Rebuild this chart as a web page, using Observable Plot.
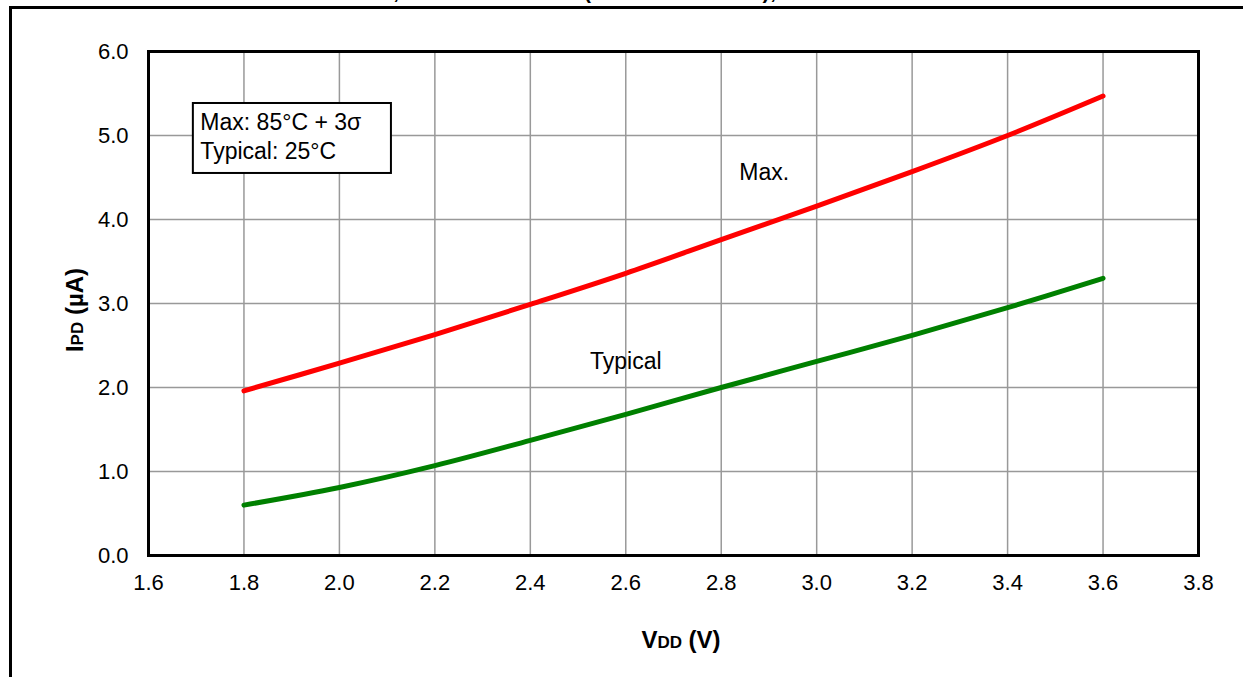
<!DOCTYPE html>
<html>
<head>
<meta charset="utf-8">
<script src="https://cdn.jsdelivr.net/npm/d3@7"></script>
<script src="https://cdn.jsdelivr.net/npm/@observablehq/plot@0.6"></script>
<style>
  html, body { margin: 0; padding: 0; background: #fff; }
  #wrap { position: relative; width: 1243px; height: 677px; overflow: hidden; font-family: "Liberation Sans", Arial, sans-serif; }
  #frame { position: absolute; left: 9px; top: 6px; width: 1300px; height: 700px; border-top: 3px solid #000; border-left: 3px solid #000; }
  .ttl { position: absolute; top: -19px; font: bold 21px "Liberation Sans", Arial, sans-serif; line-height: 21px; white-space: nowrap; color: #000; }
  #chart { position: absolute; left: 0; top: 0; }
</style>
</head>
<body>
<div id="wrap">
  <div class="ttl" style="right:844px">FIGURE 26-3:   IPD vs. VDD,</div>
  <div class="ttl" style="left:584px; letter-spacing:0.8px">(WDT DISABLED),</div>
  <div id="frame"></div>
  <div id="chart"></div>
</div>
<script>
// ---- data ----
const vdd    = [1.8, 2.0, 2.2, 2.4, 2.6, 2.8, 3.0, 3.2, 3.4, 3.6];
const ipdMax = [1.96, 2.29, 2.63, 2.99, 3.36, 3.76, 4.16, 4.57, 5.00, 5.47];
const ipdTyp = [0.60, 0.81, 1.07, 1.37, 1.68, 2.00, 2.31, 2.62, 2.95, 3.30];
const xTicks = [1.6, 1.8, 2.0, 2.2, 2.4, 2.6, 2.8, 3.0, 3.2, 3.4, 3.6, 3.8];
const yTicks = [0, 1, 2, 3, 4, 5, 6];
const legendLines = ["Max: 85°C + 3σ", "Typical: 25°C"];
const seriesLabels = [
  {text: "Max.", x: 2.89, y: 4.56},
  {text: "Typical", x: 2.60, y: 2.31}
];
const legendBox = [{x1: 1.694, x2: 2.109, y1: 4.548, y2: 5.381}];

const maxData = vdd.map((v, i) => ({v, ipd: ipdMax[i]}));
const typData = vdd.map((v, i) => ({v, ipd: ipdTyp[i]}));

const W = 1243, H = 677;
const svg = Plot.plot({
  width: W, height: H,
  marginLeft: 148, marginRight: 45, marginTop: 51, marginBottom: 122,
  style: {fontFamily: "'Liberation Sans', Arial, sans-serif", fontSize: "22px", color: "#000", background: "transparent", overflow: "visible"},
  x: {domain: [1.6, 3.8], label: null},
  y: {domain: [0, 6], label: null},
  marks: [
    Plot.gridX(xTicks, {stroke: "#999", strokeOpacity: 1, strokeWidth: 1.5}),
    Plot.gridY(yTicks, {stroke: "#999", strokeOpacity: 1, strokeWidth: 1.5}),
    Plot.rect(legendBox, {x1: "x1", x2: "x2", y1: "y1", y2: "y2", fill: "white", stroke: "black", strokeWidth: 2}),
    Plot.text(legendLines, {x: legendBox[0].x1, y: (d, i) => i === 0 ? 5.155 : 4.81, text: d => d, textAnchor: "start", dx: 7, fontSize: 23, fill: "#000"}),
    Plot.line(maxData, {x: "v", y: "ipd", stroke: "#ff0000", strokeWidth: 5, curve: "catmull-rom", strokeLinecap: "round"}),
    Plot.line(typData, {x: "v", y: "ipd", stroke: "#008000", strokeWidth: 5, curve: "catmull-rom", strokeLinecap: "round"}),
    Plot.text(seriesLabels, {x: "x", y: "y", text: "text", fontSize: 23, fill: "#000"}),
    Plot.frame({stroke: "#000", strokeWidth: 3}),
    Plot.axisX(xTicks, {tickSize: 0, tickPadding: 19, tickFormat: d => d.toFixed(1), fontSize: 22, label: null}),
    Plot.axisY(yTicks, {tickSize: 0, tickPadding: 20, tickFormat: d => d.toFixed(1), fontSize: 22, label: null})
  ]
});

const s = d3.select(svg);
const yl = s.append("text")
  .attr("transform", "translate(83,310) rotate(-90)")
  .attr("text-anchor", "middle")
  .attr("font-weight", "bold").attr("font-size", 24).attr("fill", "#000");
yl.append("tspan").text("I");
yl.append("tspan").attr("font-size", 17).text("PD");
yl.append("tspan").text(" (µA)");

const xl = s.append("text")
  .attr("x", 681).attr("y", 648)
  .attr("text-anchor", "middle")
  .attr("font-weight", "bold").attr("font-size", 24).attr("fill", "#000");
xl.append("tspan").text("V");
xl.append("tspan").attr("font-size", 17).text("DD");
xl.append("tspan").text(" (V)");

document.getElementById("chart").appendChild(svg);
</script>
</body>
</html>
